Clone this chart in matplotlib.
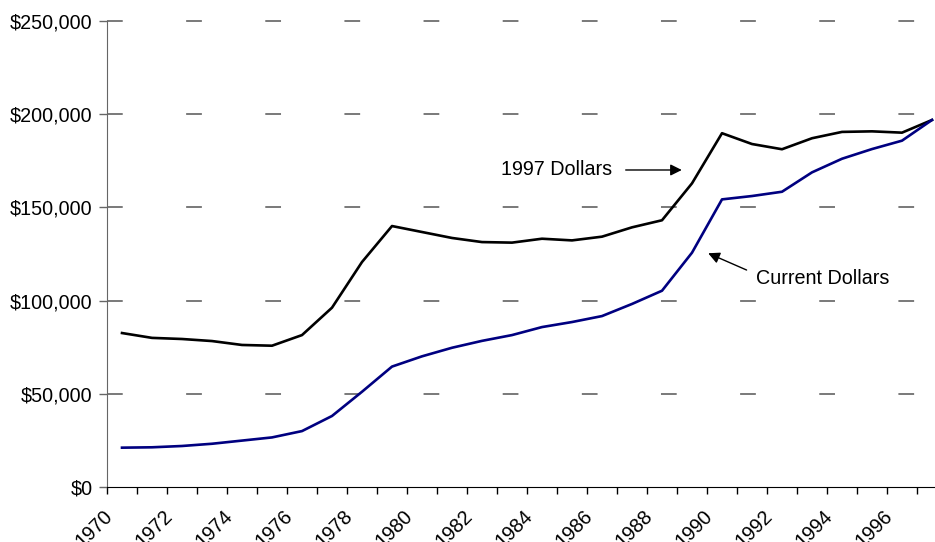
import matplotlib
matplotlib.use("Agg")
import matplotlib.pyplot as plt
from matplotlib.transforms import ScaledTranslation

plt.rcParams['font.family'] = ['Liberation Sans', 'DejaVu Sans']

years = list(range(1970, 1998))
real_1997 = [82600, 80000, 79400, 78300, 76200, 75800, 81500, 96200, 120700, 140000,
             136800, 133600, 131400, 131100, 133200, 132300, 134300, 139300, 143100, 162900,
             189800, 184000, 181200, 187100, 190500, 190800, 190100, 196900]
current = [21100, 21300, 22000, 23200, 24900, 26600, 30000, 38100, 51100, 64600,
           70100, 74700, 78400, 81500, 85800, 88500, 91700, 98200, 105300, 125700,
           154300, 156100, 158400, 168800, 176100, 181300, 185800, 196900]

y_ticks = [0, 50000, 100000, 150000, 200000, 250000]
y_labels = ['$0', '$50,000', '$100,000', '$150,000', '$200,000', '$250,000']
x_labels = [str(y) if (y - 1970) % 2 == 0 else '' for y in years]

FS = 14.2

fig = plt.figure(figsize=(9.35, 5.42), dpi=100)
ax = fig.add_axes([107 / 935, 55 / 542, 840 / 935, 466 / 542])

# dashed horizontal guides, drawn above the frame so the top one is not clipped
for v in y_ticks[1:]:
    ax.axhline(v, color='#555555', lw=1.1, linestyle=(0, (10.3, 41.5)),
               clip_on=False, zorder=1)

ax.plot(years, real_1997, color='black', lw=1.9, zorder=3)
ax.plot(years, current, color='#000080', lw=1.9, zorder=3)

ax.set_xlim(1969.5, 1997.5)
ax.set_ylim(0, 250000)

ax.set_yticks(y_ticks)
ax.set_yticklabels(y_labels, fontsize=FS)
ax.set_xticks([y - 0.5 for y in years])
ax.set_xticklabels(x_labels, fontsize=FS, rotation=45, ha='right', va='center',
                   rotation_mode='anchor')
ax.tick_params(axis='x', length=5, width=1, pad=14, color='black')
ax.tick_params(axis='y', length=6, width=1, pad=4.4, color='#666666')

shift = ScaledTranslation(2.5 / 100, 0, fig.dpi_scale_trans)
for lbl in ax.get_xticklabels():
    lbl.set_transform(lbl.get_transform() + shift)

for side in ('top', 'right'):
    ax.spines[side].set_visible(False)
ax.spines['left'].set_color('#666666')
ax.spines['bottom'].set_color('black')

arrow = dict(arrowstyle='-|>', color='black', lw=1, mutation_scale=17,
             shrinkA=0, shrinkB=0)
ax.text(1982.63, 170600, '1997 Dollars', fontsize=FS, va='center', ha='left')
ax.annotate('', xy=(1988.66, 170070), xytext=(1986.79, 170070), arrowprops=arrow)
ax.text(1991.13, 111600, 'Current Dollars', fontsize=FS, va='center', ha='left')
ax.annotate('', xy=(1989.54, 125400), xytext=(1990.82, 116400), arrowprops=arrow)

fig.savefig('out.png', dpi=100)
